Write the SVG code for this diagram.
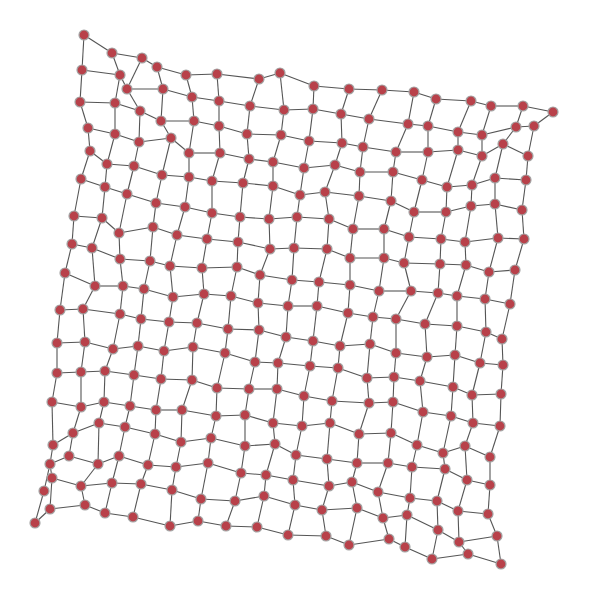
<svg xmlns="http://www.w3.org/2000/svg" width="589" height="600" viewBox="0 0 589 600">
<style>
.edges path{stroke:#555;stroke-width:1.1;fill:none}
.nodes circle{fill:#b8414a;stroke:#a3a3a3;stroke-width:1.2}
</style>
<rect width="589" height="600" fill="#fff"/>
<g id="edges" class="edges">
<path d="M84 35L112 53"/><path d="M112 53L142 58"/><path d="M142 58L157 67"/><path d="M157 67L186 75"/><path d="M186 75L217 74"/><path d="M217 74L259 79"/><path d="M259 79L280 73"/><path d="M280 73L314 86"/><path d="M314 86L349 89"/><path d="M349 89L382 90"/><path d="M382 90L414 92"/><path d="M414 92L436 99"/><path d="M436 99L471 101"/><path d="M471 101L491 106"/><path d="M491 106L523 106"/><path d="M523 106L553 112"/>
<path d="M82 70L120 75"/><path d="M120 75L127 89"/><path d="M127 89L163 89"/><path d="M163 89L192 97"/><path d="M192 97L219 101"/><path d="M219 101L250 106"/><path d="M250 106L284 110"/><path d="M284 110L313 109"/><path d="M313 109L341 114"/><path d="M341 114L369 119"/><path d="M369 119L408 124"/><path d="M408 124L428 126"/><path d="M428 126L458 132"/><path d="M458 132L482 135"/><path d="M482 135L516 127"/><path d="M516 127L534 126"/>
<path d="M80 102L115 103"/><path d="M115 103L140 111"/><path d="M140 111L161 121"/><path d="M161 121L194 121"/><path d="M194 121L219 126"/><path d="M219 126L247 134"/><path d="M247 134L281 135"/><path d="M281 135L309 141"/><path d="M309 141L342 143"/><path d="M342 143L363 147"/><path d="M363 147L396 152"/><path d="M396 152L428 152"/><path d="M428 152L458 150"/><path d="M458 150L482 156"/><path d="M482 156L503 144"/><path d="M503 144L528 156"/>
<path d="M88 128L115 134"/><path d="M115 134L139 142"/><path d="M139 142L171 138"/><path d="M171 138L189 153"/><path d="M189 153L220 153"/><path d="M220 153L249 159"/><path d="M249 159L273 162"/><path d="M273 162L304 168"/><path d="M304 168L335 165"/><path d="M335 165L360 172"/><path d="M360 172L393 172"/><path d="M393 172L422 180"/><path d="M422 180L447 187"/><path d="M447 187L472 185"/><path d="M472 185L495 178"/><path d="M495 178L526 180"/>
<path d="M90 151L107 164"/><path d="M107 164L134 166"/><path d="M134 166L162 175"/><path d="M162 175L189 177"/><path d="M189 177L212 181"/><path d="M212 181L243 183"/><path d="M243 183L273 186"/><path d="M273 186L300 195"/><path d="M300 195L325 192"/><path d="M325 192L359 196"/><path d="M359 196L391 201"/><path d="M391 201L414 212"/><path d="M414 212L446 212"/><path d="M446 212L471 206"/><path d="M471 206L495 204"/><path d="M495 204L522 210"/>
<path d="M81 179L105 187"/><path d="M105 187L127 194"/><path d="M127 194L156 203"/><path d="M156 203L185 207"/><path d="M185 207L212 213"/><path d="M212 213L240 217"/><path d="M240 217L269 219"/><path d="M269 219L297 217"/><path d="M297 217L329 219"/><path d="M329 219L353 229"/><path d="M353 229L384 229"/><path d="M384 229L409 237"/><path d="M409 237L441 239"/><path d="M441 239L465 242"/><path d="M465 242L498 238"/><path d="M498 238L524 239"/>
<path d="M74 216L102 218"/><path d="M102 218L119 233"/><path d="M119 233L153 227"/><path d="M153 227L177 235"/><path d="M177 235L207 239"/><path d="M207 239L238 242"/><path d="M238 242L270 249"/><path d="M270 249L294 248"/><path d="M294 248L327 249"/><path d="M327 249L350 258"/><path d="M350 258L384 258"/><path d="M384 258L404 263"/><path d="M404 263L440 264"/><path d="M440 264L466 265"/><path d="M466 265L489 272"/><path d="M489 272L515 270"/>
<path d="M72 244L92 248"/><path d="M92 248L120 259"/><path d="M120 259L150 261"/><path d="M150 261L170 266"/><path d="M170 266L202 268"/><path d="M202 268L237 267"/><path d="M237 267L260 275"/><path d="M260 275L292 280"/><path d="M292 280L319 282"/><path d="M319 282L350 285"/><path d="M350 285L379 291"/><path d="M379 291L411 291"/><path d="M411 291L438 293"/><path d="M438 293L457 296"/><path d="M457 296L485 299"/><path d="M485 299L510 304"/>
<path d="M65 273L95 286"/><path d="M95 286L123 286"/><path d="M123 286L144 289"/><path d="M144 289L173 297"/><path d="M173 297L204 294"/><path d="M204 294L231 296"/><path d="M231 296L258 303"/><path d="M258 303L288 306"/><path d="M288 306L317 306"/><path d="M317 306L348 313"/><path d="M348 313L373 317"/><path d="M373 317L396 319"/><path d="M396 319L425 324"/><path d="M425 324L457 326"/><path d="M457 326L486 332"/><path d="M486 332L502 339"/>
<path d="M60 310L83 309"/><path d="M83 309L120 314"/><path d="M120 314L141 319"/><path d="M141 319L169 322"/><path d="M169 322L197 323"/><path d="M197 323L228 329"/><path d="M228 329L259 330"/><path d="M259 330L286 337"/><path d="M286 337L313 341"/><path d="M313 341L340 346"/><path d="M340 346L370 344"/><path d="M370 344L396 353"/><path d="M396 353L427 357"/><path d="M427 357L455 355"/><path d="M455 355L480 363"/><path d="M480 363L503 365"/>
<path d="M57 343L85 342"/><path d="M85 342L113 349"/><path d="M113 349L138 346"/><path d="M138 346L164 351"/><path d="M164 351L193 347"/><path d="M193 347L225 353"/><path d="M225 353L255 362"/><path d="M255 362L278 363"/><path d="M278 363L310 366"/><path d="M310 366L338 368"/><path d="M338 368L367 378"/><path d="M367 378L394 377"/><path d="M394 377L420 381"/><path d="M420 381L453 387"/><path d="M453 387L472 395"/><path d="M472 395L501 394"/>
<path d="M57 373L81 372"/><path d="M81 372L105 371"/><path d="M105 371L134 375"/><path d="M134 375L161 379"/><path d="M161 379L192 380"/><path d="M192 380L217 388"/><path d="M217 388L249 389"/><path d="M249 389L277 389"/><path d="M277 389L304 396"/><path d="M304 396L332 401"/><path d="M332 401L369 403"/><path d="M369 403L393 402"/><path d="M393 402L423 412"/><path d="M423 412L451 416"/><path d="M451 416L473 423"/><path d="M473 423L500 426"/>
<path d="M52 402L81 407"/><path d="M81 407L104 402"/><path d="M104 402L130 406"/><path d="M130 406L156 410"/><path d="M156 410L182 410"/><path d="M182 410L216 416"/><path d="M216 416L245 415"/><path d="M245 415L273 423"/><path d="M273 423L302 426"/><path d="M302 426L330 423"/><path d="M330 423L359 434"/><path d="M359 434L391 433"/><path d="M391 433L417 445"/><path d="M417 445L443 453"/><path d="M443 453L465 446"/><path d="M465 446L490 457"/>
<path d="M53 445L73 433"/><path d="M73 433L99 423"/><path d="M99 423L125 427"/><path d="M125 427L155 434"/><path d="M155 434L181 442"/><path d="M181 442L211 438"/><path d="M211 438L245 446"/><path d="M245 446L275 444"/><path d="M275 444L296 455"/><path d="M296 455L327 459"/><path d="M327 459L357 463"/><path d="M357 463L388 463"/><path d="M388 463L412 467"/><path d="M412 467L445 469"/><path d="M445 469L467 480"/><path d="M467 480L490 485"/>
<path d="M50 464L69 456"/><path d="M69 456L98 464"/><path d="M98 464L119 456"/><path d="M119 456L148 465"/><path d="M148 465L176 467"/><path d="M176 467L208 463"/><path d="M208 463L241 473"/><path d="M241 473L266 475"/><path d="M266 475L293 480"/><path d="M293 480L329 486"/><path d="M329 486L352 482"/><path d="M352 482L378 492"/><path d="M378 492L410 498"/><path d="M410 498L437 501"/><path d="M437 501L458 511"/><path d="M458 511L488 514"/>
<path d="M52 478L81 486"/><path d="M81 486L112 483"/><path d="M112 483L141 484"/><path d="M141 484L172 490"/><path d="M172 490L201 499"/><path d="M201 499L235 501"/><path d="M235 501L264 496"/><path d="M264 496L295 505"/><path d="M295 505L322 510"/><path d="M322 510L357 508"/><path d="M357 508L383 518"/><path d="M383 518L407 515"/><path d="M407 515L438 530"/><path d="M438 530L459 542"/><path d="M459 542L497 536"/>
<path d="M50 509L85 505"/><path d="M85 505L105 513"/><path d="M105 513L133 517"/><path d="M133 517L170 526"/><path d="M170 526L198 521"/><path d="M198 521L226 526"/><path d="M226 526L257 527"/><path d="M257 527L288 535"/><path d="M288 535L326 536"/><path d="M326 536L349 545"/><path d="M349 545L389 539"/><path d="M389 539L405 547"/><path d="M405 547L432 559"/><path d="M432 559L468 554"/><path d="M468 554L501 564"/>
<path d="M84 35L82 70"/><path d="M82 70L80 102"/><path d="M80 102L88 128"/><path d="M88 128L90 151"/><path d="M90 151L81 179"/><path d="M81 179L74 216"/><path d="M74 216L72 244"/><path d="M72 244L65 273"/><path d="M65 273L60 310"/><path d="M60 310L57 343"/><path d="M57 343L57 373"/><path d="M57 373L52 402"/><path d="M52 402L53 445"/><path d="M53 445L50 464"/>
<path d="M112 53L120 75"/><path d="M120 75L115 103"/><path d="M115 103L115 134"/><path d="M115 134L107 164"/><path d="M107 164L105 187"/><path d="M105 187L102 218"/><path d="M102 218L92 248"/><path d="M92 248L95 286"/><path d="M95 286L83 309"/><path d="M83 309L85 342"/><path d="M85 342L81 372"/><path d="M81 372L81 407"/><path d="M81 407L73 433"/><path d="M73 433L69 456"/>
<path d="M142 58L127 89"/><path d="M127 89L140 111"/><path d="M140 111L139 142"/><path d="M139 142L134 166"/><path d="M134 166L127 194"/><path d="M127 194L119 233"/><path d="M119 233L120 259"/><path d="M120 259L123 286"/><path d="M123 286L120 314"/><path d="M120 314L113 349"/><path d="M113 349L105 371"/><path d="M105 371L104 402"/><path d="M104 402L99 423"/><path d="M99 423L98 464"/>
<path d="M157 67L163 89"/><path d="M163 89L161 121"/><path d="M161 121L171 138"/><path d="M171 138L162 175"/><path d="M162 175L156 203"/><path d="M156 203L153 227"/><path d="M153 227L150 261"/><path d="M150 261L144 289"/><path d="M144 289L141 319"/><path d="M141 319L138 346"/><path d="M138 346L134 375"/><path d="M134 375L130 406"/><path d="M130 406L125 427"/><path d="M125 427L119 456"/>
<path d="M186 75L192 97"/><path d="M192 97L194 121"/><path d="M194 121L189 153"/><path d="M189 153L189 177"/><path d="M189 177L185 207"/><path d="M185 207L177 235"/><path d="M177 235L170 266"/><path d="M170 266L173 297"/><path d="M173 297L169 322"/><path d="M169 322L164 351"/><path d="M164 351L161 379"/><path d="M161 379L156 410"/><path d="M156 410L155 434"/><path d="M155 434L148 465"/>
<path d="M217 74L219 101"/><path d="M219 101L219 126"/><path d="M219 126L220 153"/><path d="M220 153L212 181"/><path d="M212 181L212 213"/><path d="M212 213L207 239"/><path d="M207 239L202 268"/><path d="M202 268L204 294"/><path d="M204 294L197 323"/><path d="M197 323L193 347"/><path d="M193 347L192 380"/><path d="M192 380L182 410"/><path d="M182 410L181 442"/><path d="M181 442L176 467"/>
<path d="M259 79L250 106"/><path d="M250 106L247 134"/><path d="M247 134L249 159"/><path d="M249 159L243 183"/><path d="M243 183L240 217"/><path d="M240 217L238 242"/><path d="M238 242L237 267"/><path d="M237 267L231 296"/><path d="M231 296L228 329"/><path d="M228 329L225 353"/><path d="M225 353L217 388"/><path d="M217 388L216 416"/><path d="M216 416L211 438"/><path d="M211 438L208 463"/>
<path d="M280 73L284 110"/><path d="M284 110L281 135"/><path d="M281 135L273 162"/><path d="M273 162L273 186"/><path d="M273 186L269 219"/><path d="M269 219L270 249"/><path d="M270 249L260 275"/><path d="M260 275L258 303"/><path d="M258 303L259 330"/><path d="M259 330L255 362"/><path d="M255 362L249 389"/><path d="M249 389L245 415"/><path d="M245 415L245 446"/><path d="M245 446L241 473"/>
<path d="M314 86L313 109"/><path d="M313 109L309 141"/><path d="M309 141L304 168"/><path d="M304 168L300 195"/><path d="M300 195L297 217"/><path d="M297 217L294 248"/><path d="M294 248L292 280"/><path d="M292 280L288 306"/><path d="M288 306L286 337"/><path d="M286 337L278 363"/><path d="M278 363L277 389"/><path d="M277 389L273 423"/><path d="M273 423L275 444"/><path d="M275 444L266 475"/>
<path d="M349 89L341 114"/><path d="M341 114L342 143"/><path d="M342 143L335 165"/><path d="M335 165L325 192"/><path d="M325 192L329 219"/><path d="M329 219L327 249"/><path d="M327 249L319 282"/><path d="M319 282L317 306"/><path d="M317 306L313 341"/><path d="M313 341L310 366"/><path d="M310 366L304 396"/><path d="M304 396L302 426"/><path d="M302 426L296 455"/><path d="M296 455L293 480"/>
<path d="M382 90L369 119"/><path d="M369 119L363 147"/><path d="M363 147L360 172"/><path d="M360 172L359 196"/><path d="M359 196L353 229"/><path d="M353 229L350 258"/><path d="M350 258L350 285"/><path d="M350 285L348 313"/><path d="M348 313L340 346"/><path d="M340 346L338 368"/><path d="M338 368L332 401"/><path d="M332 401L330 423"/><path d="M330 423L327 459"/><path d="M327 459L329 486"/>
<path d="M414 92L408 124"/><path d="M408 124L396 152"/><path d="M396 152L393 172"/><path d="M393 172L391 201"/><path d="M391 201L384 229"/><path d="M384 229L384 258"/><path d="M384 258L379 291"/><path d="M379 291L373 317"/><path d="M373 317L370 344"/><path d="M370 344L367 378"/><path d="M367 378L369 403"/><path d="M369 403L359 434"/><path d="M359 434L357 463"/><path d="M357 463L352 482"/>
<path d="M436 99L428 126"/><path d="M428 126L428 152"/><path d="M428 152L422 180"/><path d="M422 180L414 212"/><path d="M414 212L409 237"/><path d="M409 237L404 263"/><path d="M404 263L411 291"/><path d="M411 291L396 319"/><path d="M396 319L396 353"/><path d="M396 353L394 377"/><path d="M394 377L393 402"/><path d="M393 402L391 433"/><path d="M391 433L388 463"/><path d="M388 463L378 492"/>
<path d="M471 101L458 132"/><path d="M458 132L458 150"/><path d="M458 150L447 187"/><path d="M447 187L446 212"/><path d="M446 212L441 239"/><path d="M441 239L440 264"/><path d="M440 264L438 293"/><path d="M438 293L425 324"/><path d="M425 324L427 357"/><path d="M427 357L420 381"/><path d="M420 381L423 412"/><path d="M423 412L417 445"/><path d="M417 445L412 467"/><path d="M412 467L410 498"/>
<path d="M491 106L482 135"/><path d="M482 135L482 156"/><path d="M482 156L472 185"/><path d="M472 185L471 206"/><path d="M471 206L465 242"/><path d="M465 242L466 265"/><path d="M466 265L457 296"/><path d="M457 296L457 326"/><path d="M457 326L455 355"/><path d="M455 355L453 387"/><path d="M453 387L451 416"/><path d="M451 416L443 453"/><path d="M443 453L445 469"/><path d="M445 469L437 501"/>
<path d="M523 106L516 127"/><path d="M516 127L503 144"/><path d="M503 144L495 178"/><path d="M495 178L495 204"/><path d="M495 204L498 238"/><path d="M498 238L489 272"/><path d="M489 272L485 299"/><path d="M485 299L486 332"/><path d="M486 332L480 363"/><path d="M480 363L472 395"/><path d="M472 395L473 423"/><path d="M473 423L465 446"/><path d="M465 446L467 480"/><path d="M467 480L458 511"/>
<path d="M553 112L534 126"/><path d="M534 126L528 156"/><path d="M528 156L526 180"/><path d="M526 180L522 210"/><path d="M522 210L524 239"/><path d="M524 239L515 270"/><path d="M515 270L510 304"/><path d="M510 304L502 339"/><path d="M502 339L503 365"/><path d="M503 365L501 394"/><path d="M501 394L500 426"/><path d="M500 426L490 457"/><path d="M490 457L490 485"/><path d="M490 485L488 514"/>
<path d="M50 464L52 478"/><path d="M98 464L81 486"/><path d="M119 456L112 483"/><path d="M148 465L141 484"/><path d="M176 467L172 490"/><path d="M208 463L201 499"/><path d="M241 473L235 501"/><path d="M266 475L264 496"/><path d="M293 480L295 505"/><path d="M329 486L322 510"/><path d="M352 482L357 508"/><path d="M378 492L383 518"/><path d="M410 498L407 515"/><path d="M437 501L438 530"/><path d="M458 511L459 542"/><path d="M488 514L497 536"/>
<path d="M52 478L50 509"/><path d="M81 486L85 505"/><path d="M112 483L105 513"/><path d="M141 484L133 517"/><path d="M172 490L170 526"/><path d="M201 499L198 521"/><path d="M235 501L226 526"/><path d="M264 496L257 527"/><path d="M295 505L288 535"/><path d="M322 510L326 536"/><path d="M357 508L349 545"/><path d="M383 518L389 539"/><path d="M407 515L405 547"/><path d="M438 530L432 559"/><path d="M459 542L468 554"/><path d="M497 536L501 564"/>
<path d="M35 523L50 509"/><path d="M35 523L44 491"/><path d="M44 491L50 464"/>
</g>
<g id="nodes" class="nodes">
<g id="a1"><circle cx="84" cy="35" r="5"/></g><g id="a2"><circle cx="112" cy="53" r="5"/></g><g id="a3"><circle cx="142" cy="58" r="5"/></g><g id="a4"><circle cx="157" cy="67" r="5"/></g><g id="a5"><circle cx="186" cy="75" r="5"/></g><g id="a6"><circle cx="217" cy="74" r="5"/></g><g id="a7"><circle cx="259" cy="79" r="5"/></g><g id="a8"><circle cx="280" cy="73" r="5"/></g><g id="a9"><circle cx="314" cy="86" r="5"/></g><g id="a10"><circle cx="349" cy="89" r="5"/></g><g id="a11"><circle cx="382" cy="90" r="5"/></g><g id="a12"><circle cx="414" cy="92" r="5"/></g><g id="a13"><circle cx="436" cy="99" r="5"/></g><g id="a14"><circle cx="471" cy="101" r="5"/></g><g id="a15"><circle cx="491" cy="106" r="5"/></g><g id="a16"><circle cx="523" cy="106" r="5"/></g><g id="a17"><circle cx="553" cy="112" r="5"/></g>
<g id="b1"><circle cx="82" cy="70" r="5"/></g><g id="b2"><circle cx="120" cy="75" r="5"/></g><g id="b3"><circle cx="127" cy="89" r="5"/></g><g id="b4"><circle cx="163" cy="89" r="5"/></g><g id="b5"><circle cx="192" cy="97" r="5"/></g><g id="b6"><circle cx="219" cy="101" r="5"/></g><g id="b7"><circle cx="250" cy="106" r="5"/></g><g id="b8"><circle cx="284" cy="110" r="5"/></g><g id="b9"><circle cx="313" cy="109" r="5"/></g><g id="b10"><circle cx="341" cy="114" r="5"/></g><g id="b11"><circle cx="369" cy="119" r="5"/></g><g id="b12"><circle cx="408" cy="124" r="5"/></g><g id="b13"><circle cx="428" cy="126" r="5"/></g><g id="b14"><circle cx="458" cy="132" r="5"/></g><g id="b15"><circle cx="482" cy="135" r="5"/></g><g id="b16"><circle cx="516" cy="127" r="5"/></g><g id="b17"><circle cx="534" cy="126" r="5"/></g>
<g id="c1"><circle cx="80" cy="102" r="5"/></g><g id="c2"><circle cx="115" cy="103" r="5"/></g><g id="c3"><circle cx="140" cy="111" r="5"/></g><g id="c4"><circle cx="161" cy="121" r="5"/></g><g id="c5"><circle cx="194" cy="121" r="5"/></g><g id="c6"><circle cx="219" cy="126" r="5"/></g><g id="c7"><circle cx="247" cy="134" r="5"/></g><g id="c8"><circle cx="281" cy="135" r="5"/></g><g id="c9"><circle cx="309" cy="141" r="5"/></g><g id="c10"><circle cx="342" cy="143" r="5"/></g><g id="c11"><circle cx="363" cy="147" r="5"/></g><g id="c12"><circle cx="396" cy="152" r="5"/></g><g id="c13"><circle cx="428" cy="152" r="5"/></g><g id="c14"><circle cx="458" cy="150" r="5"/></g><g id="c15"><circle cx="482" cy="156" r="5"/></g><g id="c16"><circle cx="503" cy="144" r="5"/></g><g id="c17"><circle cx="528" cy="156" r="5"/></g>
<g id="d1"><circle cx="88" cy="128" r="5"/></g><g id="d2"><circle cx="115" cy="134" r="5"/></g><g id="d3"><circle cx="139" cy="142" r="5"/></g><g id="d4"><circle cx="171" cy="138" r="5"/></g><g id="d5"><circle cx="189" cy="153" r="5"/></g><g id="d6"><circle cx="220" cy="153" r="5"/></g><g id="d7"><circle cx="249" cy="159" r="5"/></g><g id="d8"><circle cx="273" cy="162" r="5"/></g><g id="d9"><circle cx="304" cy="168" r="5"/></g><g id="d10"><circle cx="335" cy="165" r="5"/></g><g id="d11"><circle cx="360" cy="172" r="5"/></g><g id="d12"><circle cx="393" cy="172" r="5"/></g><g id="d13"><circle cx="422" cy="180" r="5"/></g><g id="d14"><circle cx="447" cy="187" r="5"/></g><g id="d15"><circle cx="472" cy="185" r="5"/></g><g id="d16"><circle cx="495" cy="178" r="5"/></g><g id="d17"><circle cx="526" cy="180" r="5"/></g>
<g id="e1"><circle cx="90" cy="151" r="5"/></g><g id="e2"><circle cx="107" cy="164" r="5"/></g><g id="e3"><circle cx="134" cy="166" r="5"/></g><g id="e4"><circle cx="162" cy="175" r="5"/></g><g id="e5"><circle cx="189" cy="177" r="5"/></g><g id="e6"><circle cx="212" cy="181" r="5"/></g><g id="e7"><circle cx="243" cy="183" r="5"/></g><g id="e8"><circle cx="273" cy="186" r="5"/></g><g id="e9"><circle cx="300" cy="195" r="5"/></g><g id="e10"><circle cx="325" cy="192" r="5"/></g><g id="e11"><circle cx="359" cy="196" r="5"/></g><g id="e12"><circle cx="391" cy="201" r="5"/></g><g id="e13"><circle cx="414" cy="212" r="5"/></g><g id="e14"><circle cx="446" cy="212" r="5"/></g><g id="e15"><circle cx="471" cy="206" r="5"/></g><g id="e16"><circle cx="495" cy="204" r="5"/></g><g id="e17"><circle cx="522" cy="210" r="5"/></g>
<g id="f1"><circle cx="81" cy="179" r="5"/></g><g id="f2"><circle cx="105" cy="187" r="5"/></g><g id="f3"><circle cx="127" cy="194" r="5"/></g><g id="f4"><circle cx="156" cy="203" r="5"/></g><g id="f5"><circle cx="185" cy="207" r="5"/></g><g id="f6"><circle cx="212" cy="213" r="5"/></g><g id="f7"><circle cx="240" cy="217" r="5"/></g><g id="f8"><circle cx="269" cy="219" r="5"/></g><g id="f9"><circle cx="297" cy="217" r="5"/></g><g id="f10"><circle cx="329" cy="219" r="5"/></g><g id="f11"><circle cx="353" cy="229" r="5"/></g><g id="f12"><circle cx="384" cy="229" r="5"/></g><g id="f13"><circle cx="409" cy="237" r="5"/></g><g id="f14"><circle cx="441" cy="239" r="5"/></g><g id="f15"><circle cx="465" cy="242" r="5"/></g><g id="f16"><circle cx="498" cy="238" r="5"/></g><g id="f17"><circle cx="524" cy="239" r="5"/></g>
<g id="g1"><circle cx="74" cy="216" r="5"/></g><g id="g2"><circle cx="102" cy="218" r="5"/></g><g id="g3"><circle cx="119" cy="233" r="5"/></g><g id="g4"><circle cx="153" cy="227" r="5"/></g><g id="g5"><circle cx="177" cy="235" r="5"/></g><g id="g6"><circle cx="207" cy="239" r="5"/></g><g id="g7"><circle cx="238" cy="242" r="5"/></g><g id="g8"><circle cx="270" cy="249" r="5"/></g><g id="g9"><circle cx="294" cy="248" r="5"/></g><g id="g10"><circle cx="327" cy="249" r="5"/></g><g id="g11"><circle cx="350" cy="258" r="5"/></g><g id="g12"><circle cx="384" cy="258" r="5"/></g><g id="g13"><circle cx="404" cy="263" r="5"/></g><g id="g14"><circle cx="440" cy="264" r="5"/></g><g id="g15"><circle cx="466" cy="265" r="5"/></g><g id="g16"><circle cx="489" cy="272" r="5"/></g><g id="g17"><circle cx="515" cy="270" r="5"/></g>
<g id="h1"><circle cx="72" cy="244" r="5"/></g><g id="h2"><circle cx="92" cy="248" r="5"/></g><g id="h3"><circle cx="120" cy="259" r="5"/></g><g id="h4"><circle cx="150" cy="261" r="5"/></g><g id="h5"><circle cx="170" cy="266" r="5"/></g><g id="h6"><circle cx="202" cy="268" r="5"/></g><g id="h7"><circle cx="237" cy="267" r="5"/></g><g id="h8"><circle cx="260" cy="275" r="5"/></g><g id="h9"><circle cx="292" cy="280" r="5"/></g><g id="h10"><circle cx="319" cy="282" r="5"/></g><g id="h11"><circle cx="350" cy="285" r="5"/></g><g id="h12"><circle cx="379" cy="291" r="5"/></g><g id="h13"><circle cx="411" cy="291" r="5"/></g><g id="h14"><circle cx="438" cy="293" r="5"/></g><g id="h15"><circle cx="457" cy="296" r="5"/></g><g id="h16"><circle cx="485" cy="299" r="5"/></g><g id="h17"><circle cx="510" cy="304" r="5"/></g>
<g id="i1"><circle cx="65" cy="273" r="5"/></g><g id="i2"><circle cx="95" cy="286" r="5"/></g><g id="i3"><circle cx="123" cy="286" r="5"/></g><g id="i4"><circle cx="144" cy="289" r="5"/></g><g id="i5"><circle cx="173" cy="297" r="5"/></g><g id="i6"><circle cx="204" cy="294" r="5"/></g><g id="i7"><circle cx="231" cy="296" r="5"/></g><g id="i8"><circle cx="258" cy="303" r="5"/></g><g id="i9"><circle cx="288" cy="306" r="5"/></g><g id="i10"><circle cx="317" cy="306" r="5"/></g><g id="i11"><circle cx="348" cy="313" r="5"/></g><g id="i12"><circle cx="373" cy="317" r="5"/></g><g id="i13"><circle cx="396" cy="319" r="5"/></g><g id="i14"><circle cx="425" cy="324" r="5"/></g><g id="i15"><circle cx="457" cy="326" r="5"/></g><g id="i16"><circle cx="486" cy="332" r="5"/></g><g id="i17"><circle cx="502" cy="339" r="5"/></g>
<g id="j1"><circle cx="60" cy="310" r="5"/></g><g id="j2"><circle cx="83" cy="309" r="5"/></g><g id="j3"><circle cx="120" cy="314" r="5"/></g><g id="j4"><circle cx="141" cy="319" r="5"/></g><g id="j5"><circle cx="169" cy="322" r="5"/></g><g id="j6"><circle cx="197" cy="323" r="5"/></g><g id="j7"><circle cx="228" cy="329" r="5"/></g><g id="j8"><circle cx="259" cy="330" r="5"/></g><g id="j9"><circle cx="286" cy="337" r="5"/></g><g id="j10"><circle cx="313" cy="341" r="5"/></g><g id="j11"><circle cx="340" cy="346" r="5"/></g><g id="j12"><circle cx="370" cy="344" r="5"/></g><g id="j13"><circle cx="396" cy="353" r="5"/></g><g id="j14"><circle cx="427" cy="357" r="5"/></g><g id="j15"><circle cx="455" cy="355" r="5"/></g><g id="j16"><circle cx="480" cy="363" r="5"/></g><g id="j17"><circle cx="503" cy="365" r="5"/></g>
<g id="k1"><circle cx="57" cy="343" r="5"/></g><g id="k2"><circle cx="85" cy="342" r="5"/></g><g id="k3"><circle cx="113" cy="349" r="5"/></g><g id="k4"><circle cx="138" cy="346" r="5"/></g><g id="k5"><circle cx="164" cy="351" r="5"/></g><g id="k6"><circle cx="193" cy="347" r="5"/></g><g id="k7"><circle cx="225" cy="353" r="5"/></g><g id="k8"><circle cx="255" cy="362" r="5"/></g><g id="k9"><circle cx="278" cy="363" r="5"/></g><g id="k10"><circle cx="310" cy="366" r="5"/></g><g id="k11"><circle cx="338" cy="368" r="5"/></g><g id="k12"><circle cx="367" cy="378" r="5"/></g><g id="k13"><circle cx="394" cy="377" r="5"/></g><g id="k14"><circle cx="420" cy="381" r="5"/></g><g id="k15"><circle cx="453" cy="387" r="5"/></g><g id="k16"><circle cx="472" cy="395" r="5"/></g><g id="k17"><circle cx="501" cy="394" r="5"/></g>
<g id="l1"><circle cx="57" cy="373" r="5"/></g><g id="l2"><circle cx="81" cy="372" r="5"/></g><g id="l3"><circle cx="105" cy="371" r="5"/></g><g id="l4"><circle cx="134" cy="375" r="5"/></g><g id="l5"><circle cx="161" cy="379" r="5"/></g><g id="l6"><circle cx="192" cy="380" r="5"/></g><g id="l7"><circle cx="217" cy="388" r="5"/></g><g id="l8"><circle cx="249" cy="389" r="5"/></g><g id="l9"><circle cx="277" cy="389" r="5"/></g><g id="l10"><circle cx="304" cy="396" r="5"/></g><g id="l11"><circle cx="332" cy="401" r="5"/></g><g id="l12"><circle cx="369" cy="403" r="5"/></g><g id="l13"><circle cx="393" cy="402" r="5"/></g><g id="l14"><circle cx="423" cy="412" r="5"/></g><g id="l15"><circle cx="451" cy="416" r="5"/></g><g id="l16"><circle cx="473" cy="423" r="5"/></g><g id="l17"><circle cx="500" cy="426" r="5"/></g>
<g id="m1"><circle cx="52" cy="402" r="5"/></g><g id="m2"><circle cx="81" cy="407" r="5"/></g><g id="m3"><circle cx="104" cy="402" r="5"/></g><g id="m4"><circle cx="130" cy="406" r="5"/></g><g id="m5"><circle cx="156" cy="410" r="5"/></g><g id="m6"><circle cx="182" cy="410" r="5"/></g><g id="m7"><circle cx="216" cy="416" r="5"/></g><g id="m8"><circle cx="245" cy="415" r="5"/></g><g id="m9"><circle cx="273" cy="423" r="5"/></g><g id="m10"><circle cx="302" cy="426" r="5"/></g><g id="m11"><circle cx="330" cy="423" r="5"/></g><g id="m12"><circle cx="359" cy="434" r="5"/></g><g id="m13"><circle cx="391" cy="433" r="5"/></g><g id="m14"><circle cx="417" cy="445" r="5"/></g><g id="m15"><circle cx="443" cy="453" r="5"/></g><g id="m16"><circle cx="465" cy="446" r="5"/></g><g id="m17"><circle cx="490" cy="457" r="5"/></g>
<g id="n1"><circle cx="53" cy="445" r="5"/></g><g id="n2"><circle cx="73" cy="433" r="5"/></g><g id="n3"><circle cx="99" cy="423" r="5"/></g><g id="n4"><circle cx="125" cy="427" r="5"/></g><g id="n5"><circle cx="155" cy="434" r="5"/></g><g id="n6"><circle cx="181" cy="442" r="5"/></g><g id="n7"><circle cx="211" cy="438" r="5"/></g><g id="n8"><circle cx="245" cy="446" r="5"/></g><g id="n9"><circle cx="275" cy="444" r="5"/></g><g id="n10"><circle cx="296" cy="455" r="5"/></g><g id="n11"><circle cx="327" cy="459" r="5"/></g><g id="n12"><circle cx="357" cy="463" r="5"/></g><g id="n13"><circle cx="388" cy="463" r="5"/></g><g id="n14"><circle cx="412" cy="467" r="5"/></g><g id="n15"><circle cx="445" cy="469" r="5"/></g><g id="n16"><circle cx="467" cy="480" r="5"/></g><g id="n17"><circle cx="490" cy="485" r="5"/></g>
<g id="o1"><circle cx="50" cy="464" r="5"/></g><g id="o2"><circle cx="69" cy="456" r="5"/></g><g id="o3"><circle cx="98" cy="464" r="5"/></g><g id="o4"><circle cx="119" cy="456" r="5"/></g><g id="o5"><circle cx="148" cy="465" r="5"/></g><g id="o6"><circle cx="176" cy="467" r="5"/></g><g id="o7"><circle cx="208" cy="463" r="5"/></g><g id="o8"><circle cx="241" cy="473" r="5"/></g><g id="o9"><circle cx="266" cy="475" r="5"/></g><g id="o10"><circle cx="293" cy="480" r="5"/></g><g id="o11"><circle cx="329" cy="486" r="5"/></g><g id="o12"><circle cx="352" cy="482" r="5"/></g><g id="o13"><circle cx="378" cy="492" r="5"/></g><g id="o14"><circle cx="410" cy="498" r="5"/></g><g id="o15"><circle cx="437" cy="501" r="5"/></g><g id="o16"><circle cx="458" cy="511" r="5"/></g><g id="o17"><circle cx="488" cy="514" r="5"/></g>
<g id="p1"><circle cx="52" cy="478" r="5"/></g><g id="p2"><circle cx="81" cy="486" r="5"/></g><g id="p3"><circle cx="112" cy="483" r="5"/></g><g id="p4"><circle cx="141" cy="484" r="5"/></g><g id="p5"><circle cx="172" cy="490" r="5"/></g><g id="p6"><circle cx="201" cy="499" r="5"/></g><g id="p7"><circle cx="235" cy="501" r="5"/></g><g id="p8"><circle cx="264" cy="496" r="5"/></g><g id="p9"><circle cx="295" cy="505" r="5"/></g><g id="p10"><circle cx="322" cy="510" r="5"/></g><g id="p11"><circle cx="357" cy="508" r="5"/></g><g id="p12"><circle cx="383" cy="518" r="5"/></g><g id="p13"><circle cx="407" cy="515" r="5"/></g><g id="p14"><circle cx="438" cy="530" r="5"/></g><g id="p15"><circle cx="459" cy="542" r="5"/></g><g id="p16"><circle cx="497" cy="536" r="5"/></g>
<g id="q1"><circle cx="50" cy="509" r="5"/></g><g id="q2"><circle cx="85" cy="505" r="5"/></g><g id="q3"><circle cx="105" cy="513" r="5"/></g><g id="q4"><circle cx="133" cy="517" r="5"/></g><g id="q5"><circle cx="170" cy="526" r="5"/></g><g id="q6"><circle cx="198" cy="521" r="5"/></g><g id="q7"><circle cx="226" cy="526" r="5"/></g><g id="q8"><circle cx="257" cy="527" r="5"/></g><g id="q9"><circle cx="288" cy="535" r="5"/></g><g id="q10"><circle cx="326" cy="536" r="5"/></g><g id="q11"><circle cx="349" cy="545" r="5"/></g><g id="q12"><circle cx="389" cy="539" r="5"/></g><g id="q13"><circle cx="405" cy="547" r="5"/></g><g id="q14"><circle cx="432" cy="559" r="5"/></g><g id="q15"><circle cx="468" cy="554" r="5"/></g><g id="q16"><circle cx="501" cy="564" r="5"/></g>
<g id="x1"><circle cx="44" cy="491" r="5"/></g><g id="x2"><circle cx="35" cy="523" r="5"/></g>
</g>
</svg>
